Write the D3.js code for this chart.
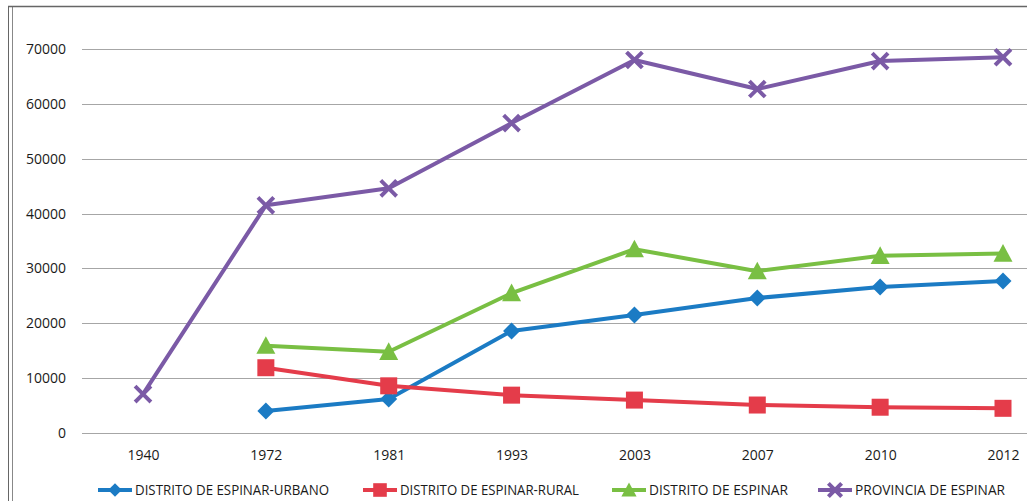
<!DOCTYPE html>
<html><head><meta charset="utf-8">
<script src="https://cdn.jsdelivr.net/npm/d3@7"></script>
<style>body{margin:0;background:#fff;} svg{display:block;}</style>
</head><body>
<svg id="c" width="1027" height="501"></svg>
<script>
const years = ["1940","1972","1981","1993","2003","2007","2010","2012"];
const yTicks = [0,10000,20000,30000,40000,50000,60000,70000];
const seriesNames = ["DISTRITO DE ESPINAR-URBANO","DISTRITO DE ESPINAR-RURAL","DISTRITO DE ESPINAR","PROVINCIA DE ESPINAR"];
const urbano = [null,4000,6200,18600,21500,24600,26600,27700];
const rural = [null,11900,8600,6900,6000,5100,4700,4500];
const distrito = [null,15900,14800,25500,33500,29500,32300,32700];
const provincia = [7100,41500,44600,56500,68000,62700,67800,68500];
const colors = ["#1b7bc4","#e43c4a","#79bf43","#7b5aa6"];
const symbols = ["diamond","square","triangle","cross"];

const svg = d3.select("#c");
const font = "'Open Sans', 'Liberation Sans', sans-serif";
// frame
svg.append("line").attr("x1",8.5).attr("x2",8.5).attr("y1",7).attr("y2",501).attr("stroke","#666").attr("stroke-width",1);
svg.append("line").attr("x1",12.5).attr("x2",12.5).attr("y1",7).attr("y2",501).attr("stroke","#888").attr("stroke-width",1);
svg.append("line").attr("x1",8).attr("x2",1027).attr("y1",6.5).attr("y2",6.5).attr("stroke","#666").attr("stroke-width",1.5);

const x = d3.scalePoint().domain(years).range([143,1003]);
const y = d3.scaleLinear().domain([0,70000]).range([433,49]);

// grid
svg.append("g").selectAll("line").data(yTicks).join("line")
  .attr("x1",82).attr("x2",1027).attr("y1",d=>Math.round(y(d))+0.5).attr("y2",d=>Math.round(y(d))+0.5)
  .attr("stroke","#a6a6a6").attr("stroke-width",1.2);

const yAxis = d3.axisLeft(y).tickValues(yTicks).tickSize(0).tickPadding(0).tickFormat(d3.format("d"));
const gy = svg.append("g").attr("transform","translate(66,0)").call(yAxis);
gy.select(".domain").remove();
gy.selectAll("text").attr("font-family",font).attr("font-size",14).attr("fill","#1a1a1a");

const xAxis = d3.axisBottom(x).tickSize(0).tickPadding(0);
const gx = svg.append("g").attr("transform","translate(0,450)").call(xAxis);
gx.select(".domain").remove();
gx.selectAll("text").attr("font-family",font).attr("font-size",14).attr("fill","#1a1a1a");

const data = [urbano, rural, distrito, provincia];
const line = d3.line().defined(d=>d!=null).x((d,i)=>x(years[i])).y(d=>y(d));

function drawMarker(g, type, cx, cy, color, scale){
  scale = scale||1;
  if(type==="diamond"){
    const s=8.5*scale;
    g.append("path").attr("d",`M${cx},${cy-s}L${cx+s},${cy}L${cx},${cy+s}L${cx-s},${cy}Z`).attr("fill",color);
  } else if(type==="square"){
    g.append("rect").attr("x",cx-8.5*scale).attr("y",cy-8.5*scale).attr("width",17*scale).attr("height",17*scale).attr("fill",color);
  } else if(type==="triangle"){
    const s=9.5*scale;
    g.append("path").attr("d",`M${cx},${cy-s}L${cx+s},${cy+s*0.85}L${cx-s},${cy+s*0.85}Z`).attr("fill",color);
  } else {
    const s=6.5*scale;
    g.append("path").attr("d",`M${cx-s},${cy-s}L${cx+s},${cy+s}M${cx-s},${cy+s}L${cx+s},${cy-s}`).attr("stroke",color).attr("stroke-width",4).attr("stroke-linecap","square");
  }
}

data.forEach((arr,k)=>{
  const g = svg.append("g");
  g.append("path").datum(arr).attr("d",line).attr("fill","none").attr("stroke",colors[k]).attr("stroke-width",4).attr("stroke-linejoin","round");
  arr.forEach((v,i)=>{ if(v!=null) drawMarker(g, symbols[k], x(years[i]), y(v), colors[k]); });
});

// legend
const legX = [98,363,612,818];
const legW = [194,179,139,150];
const lg = svg.append("g");
seriesNames.forEach((n,k)=>{
  const gy0 = 490;
  lg.append("line").attr("x1",legX[k]).attr("x2",legX[k]+34).attr("y1",gy0).attr("y2",gy0).attr("stroke",colors[k]).attr("stroke-width",4);
  drawMarker(lg, symbols[k], legX[k]+17, gy0, colors[k], 0.8);
  lg.append("text").attr("x",legX[k]+37).attr("y",gy0+5).text(n)
    .attr("textLength",legW[k]).attr("lengthAdjust","spacingAndGlyphs")
    .attr("font-family",font).attr("font-size",14).attr("fill","#1a1a1a");
});
</script>
</body></html>
